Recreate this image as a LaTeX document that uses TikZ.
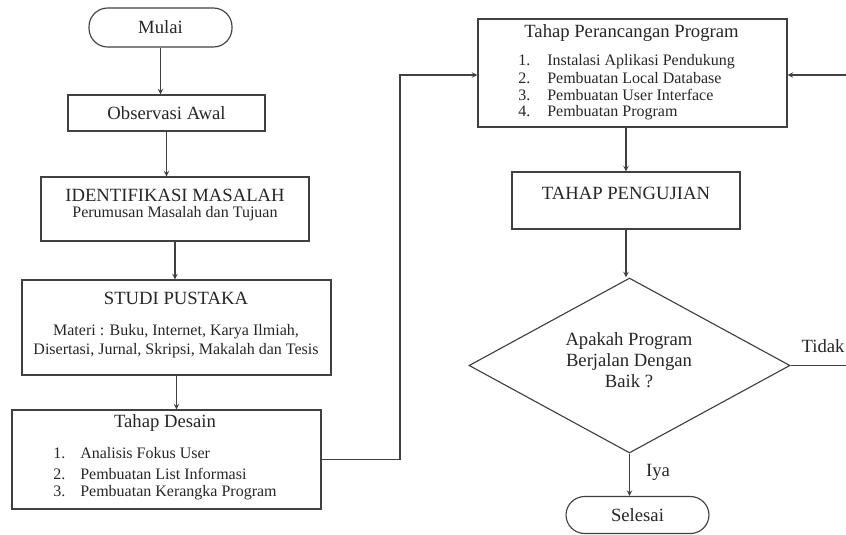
\documentclass[tikz,border=0pt]{standalone}
\usepackage{fontspec}
\setmainfont{Liberation Serif}
\usetikzlibrary{shapes,positioning,arrows,calc}
\newcommand{\judul}{\fontsize{14pt}{16pt}\selectfont}
\newcommand{\isi}{\fontsize{12pt}{14pt}\selectfont}

\begin{document}
\begin{tikzpicture}[x=0.75pt,y=-0.75pt,
	garis/.style={draw=black!75, line width=0.85pt},
	kotak/.style={garis, rectangle, text=black!85},
	ujung/.style={garis, rectangle, rounded corners=14pt, text=black!85, font=\judul},
	cabang/.style={garis, diamond, aspect=1.83, inner sep=0pt},
	teks/.style={text=black!85, inner sep=0pt},
	butir/.style={teks, font=\isi, anchor=west, text height=8pt, text depth=2.5pt}]
	\tikzset{>=stealth}
	\useasboundingbox (0,0) rectangle (846,535);

	% kolom kiri
	\node[ujung, minimum width=107.25pt, minimum height=29.25pt] (mulai) at (160.5,27.5) {Mulai};
	\node[kotak, minimum width=147.75pt, minimum height=27pt, font=\judul] (obs) at (166.5,113) {Observasi Awal};

	\node[kotak, minimum width=201pt, minimum height=48pt] (ident) at (175,209) {};
	\node[teks, font=\judul] (identA) at (175,195) {IDENTIFIKASI MASALAH};
	\node[teks, font=\isi] (identB) at (175,214) {Perumusan Masalah dan Tujuan};

	\node[kotak, minimum width=231.75pt, minimum height=71.25pt] (studi) at (176.5,327.5) {};
	\node[teks, font=\judul] (studiA) at (176,298) {STUDI PUSTAKA};
	\node[teks, font=\isi, align=center] (studiB) at (176,341) {Materi : Buku, Internet, Karya Ilmiah,\\Disertasi, Jurnal, Skripsi, Makalah dan Tesis};

	\node[kotak, minimum width=231.75pt, minimum height=74.25pt] (desain) at (166.5,459.5) {};
	\node[teks, font=\judul] (desainA) at (165,423) {Tahap Desain};
	\foreach \i/\y/\isian in {1/455/Analisis Fokus User, 2/476/Pembuatan List Informasi, 3/493/Pembuatan Kerangka Program} {
		\node[butir] (desainN\i) at (53,\y) {\i.};
		\node[butir] (desainT\i) at (80,\y) {\isian};
	}

	% kolom kanan
	\node[kotak, minimum width=231.75pt, minimum height=81pt] (peran) at (632.5,73) {};
	\node[teks, font=\judul] (peranA) at (631.5,33) {Tahap Perancangan Program};
	\foreach \i/\y/\isian in {1/62/Instalasi Aplikasi Pendukung, 2/80/Pembuatan Local Database, 3/97/Pembuatan User Interface, 4/113/Pembuatan Program} {
		\node[butir] (peranN\i) at (518,\y) {\i.};
		\node[butir] (peranT\i) at (547,\y) {\isian};
	}

	\node[kotak, minimum width=171pt, minimum height=42.75pt] (uji) at (626,200.5) {};
	\node[teks, font=\judul] (ujiA) at (626,193) {TAHAP PENGUJIAN};

	\node[cabang, minimum width=240.75pt, minimum height=131.25pt] (cek) at (629.5,365.5) {};
	\node[teks, font=\judul, align=center] (cekA) at (629,360) {Apakah Program\\Berjalan Dengan\\Baik ?};

	\node[ujung, minimum width=107.25pt, minimum height=27.75pt] (selesai) at (637.5,515) {Selesai};

	\node[teks, font=\judul] (tidak) at (823,346) {Tidak};
	\node[teks, font=\judul] (iya) at (658,472) {Iya};

	% panah
	\draw[garis,->] (mulai.south) -- (mulai.south |- obs.north);
	\draw[garis,->] (obs.south) -- (obs.south |- ident.north);
	\draw[garis,->] (ident.south) -- (ident.south |- studi.north);
	\draw[garis,->] (studi.south) -- (studi.south |- desain.north);

	\coordinate (belok) at (400,75);
	\draw[garis,->] (desain.east) -| (belok) -- (belok -| peran.west);

	\draw[garis,->] (peran.south -| uji) -- (uji.north);
	\draw[garis,->] (uji.south) -- (uji.south |- cek.north);
	\draw[garis,->] (cek.south) -- (cek.south |- selesai.north);

	\coordinate (kanan) at (846,75);
	\draw[garis,->] (kanan) -- (kanan -| peran.east);
	\coordinate (kananB) at (846,366);
	\draw[garis] (cek.east) -- (cek.east -| kananB);
\end{tikzpicture}
\end{document}
